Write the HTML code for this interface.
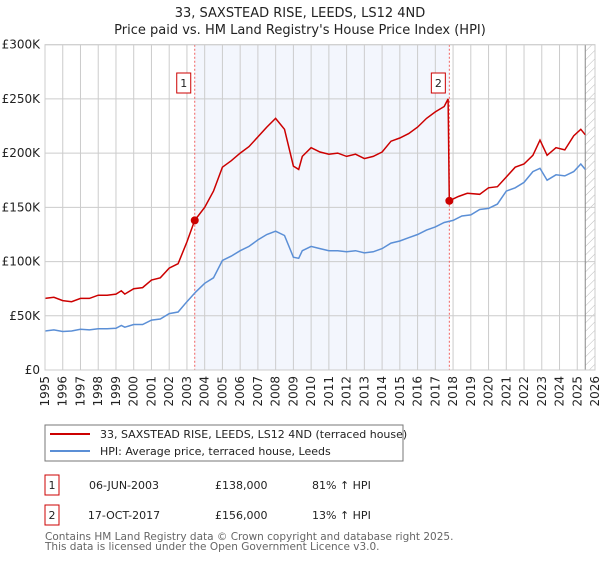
<!DOCTYPE html>
<html><head><meta charset="utf-8"><style>
body{margin:0;background:#fff;font-family:"DejaVu Sans","Liberation Sans",sans-serif;}
svg text{font-family:"DejaVu Sans","Liberation Sans",sans-serif;}
</style></head><body>
<svg id="chart" width="600" height="560" xmlns="http://www.w3.org/2000/svg">
<defs><pattern id="hatch" width="6" height="6" patternUnits="userSpaceOnUse" patternTransform="rotate(45)"><line x1="0" y1="0" x2="0" y2="6" stroke="#bbb" stroke-width="1"/></pattern></defs>
<text x="300" y="17" text-anchor="middle" font-size="13" fill="#222">33, SAXSTEAD RISE, LEEDS, LS12 4ND</text>
<text x="300" y="34" text-anchor="middle" font-size="13" fill="#222">Price paid vs. HM Land Registry's House Price Index (HPI)</text>
<g id="plot"></g>
<rect x="45" y="425" width="358" height="36" fill="#fff" stroke="#777"/>
<line x1="50" y1="434" x2="90" y2="434" stroke="#cc0000" stroke-width="2"/>
<text x="100" y="438" font-size="11" fill="#222">33, SAXSTEAD RISE, LEEDS, LS12 4ND (terraced house)</text>
<line x1="50" y1="451" x2="90" y2="451" stroke="#5b8fd6" stroke-width="2"/>
<text x="100" y="455" font-size="11" fill="#222">HPI: Average price, terraced house, Leeds</text>
<g font-size="11" fill="#222">
<rect x="45" y="475" width="14" height="20" fill="none" stroke="#cc0000"/>
<text x="52" y="489" text-anchor="middle">1</text>
<text x="124" y="489" text-anchor="middle">06-JUN-2003</text>
<text x="215" y="489">£138,000</text>
<text x="312" y="489">81% ↑ HPI</text>
<rect x="45" y="505" width="14" height="20" fill="none" stroke="#cc0000"/>
<text x="52" y="519" text-anchor="middle">2</text>
<text x="124" y="519" text-anchor="middle">17-OCT-2017</text>
<text x="215" y="519">£156,000</text>
<text x="312" y="519">13% ↑ HPI</text>
</g>
<text x="45" y="540" font-size="10.5" fill="#666">Contains HM Land Registry data © Crown copyright and database right 2025.</text>
<text x="45" y="550" font-size="10.5" fill="#666">This data is licensed under the Open Government Licence v3.0.</text>
</svg>
<script>
const hpiYears=[1995,1995.5,1996,1996.5,1997,1997.5,1998,1998.5,1999,1999.3,1999.5,2000,2000.5,2001,2001.5,2002,2002.5,2003,2003.5,2004,2004.5,2005,2005.5,2006,2006.5,2007,2007.5,2008,2008.5,2009,2009.3,2009.5,2010,2010.5,2011,2011.5,2012,2012.5,2013,2013.5,2014,2014.5,2015,2015.5,2016,2016.5,2017,2017.5,2018,2018.5,2019,2019.5,2020,2020.5,2021,2021.5,2022,2022.5,2022.9,2023.3,2023.8,2024.3,2024.8,2025.2,2025.45];
const hpiValues=[36,37,35.5,36,37.5,37,38,38,38.5,41,39.5,42,42,46,47,52,53.5,63,72,80,85,101,105,110,114,120,125,128,124,104,103,110,114,112,110,110,109,110,108,109,112,117,119,122,125,129,132,136,138,142,143,148,149,153,165,168,173,183,186,175,180,179,183,190,185];
const priceYears=[1995,1995.5,1996,1996.5,1997,1997.5,1998,1998.5,1999,1999.3,1999.5,2000,2000.5,2001,2001.5,2002,2002.5,2003,2003.44,2004,2004.5,2005,2005.5,2006,2006.5,2007,2007.5,2008,2008.5,2009,2009.3,2009.5,2010,2010.5,2011,2011.5,2012,2012.5,2013,2013.5,2014,2014.5,2015,2015.5,2016,2016.5,2017,2017.5,2017.72,2017.79,2018.3,2018.8,2019.5,2020,2020.5,2021,2021.5,2022,2022.5,2022.9,2023.3,2023.8,2024.3,2024.8,2025.2,2025.45];
const priceValues=[66,67,64,63,66,66,69,69,70,73,70,75,76,83,85,94,98,118,138,150,165,187,193,200,206,215,224,232,222,188,185,197,205,201,199,200,197,199,195,197,201,211,214,218,224,232,238,243,250,156,160,163,162,168,169,178,187,190,198,212,198,205,203,216,222,217];
const saleYears=[2003.44,2017.79];
const saleValues=[138,156];
const saleLabels=["1","2"];
const yTicks=[0,50,100,150,200,250,300];
const yTickLabels=["£0","£50K","£100K","£150K","£200K","£250K","£300K"];
const xTicks=[1995,1996,1997,1998,1999,2000,2001,2002,2003,2004,2005,2006,2007,2008,2009,2010,2011,2012,2013,2014,2015,2016,2017,2018,2019,2020,2021,2022,2023,2024,2025,2026];

const X0=45,X1=595,Y0=370,Y1=44.7;
const xs=y=>X0+(y-1995)/(2026-1995)*(X1-X0);
const ys=v=>Y0-v/300*(Y0-Y1);
const NS="http://www.w3.org/2000/svg";
const g=document.getElementById('plot');
function mk(t,a){const e=document.createElementNS(NS,t);for(const k in a)e.setAttribute(k,a[k]);g.appendChild(e);return e;}
let e;
e=mk('rect',{x:xs(saleYears[0]),y:Y1,width:xs(saleYears[1])-xs(saleYears[0]),height:Y0-Y1,fill:'#f3f6fd'});


e=mk('rect',{x:xs(2025.45),y:Y1,width:X1-xs(2025.45),height:Y0-Y1,fill:'url(#hatch)'});


xTicks.forEach(t=>{
 e=mk('line',{x1:xs(t),x2:xs(t),y1:Y1,y2:Y0,stroke:'#ccc','stroke-width':1});
 
 
 const tx=xs(t)+4, ty=376;
 e=mk('text',{x:tx,y:ty,'text-anchor':'end','font-size':12,fill:'#222',transform:'rotate(-90 '+tx+' '+ty+')'});
 e.textContent=t;
 
 
});
yTicks.forEach((t,i)=>{
 e=mk('line',{x1:X0,x2:X1,y1:ys(t),y2:ys(t),stroke:'#ccc','stroke-width':1});
 
 
 e=mk('text',{x:40,y:ys(t)+4,'text-anchor':'end','font-size':12,fill:'#222'});
 e.textContent=yTickLabels[i];
 
 
});
e=mk('line',{x1:xs(2025.45),x2:xs(2025.45),y1:Y1,y2:Y0,stroke:'#888','stroke-width':1});


saleYears.forEach((s,i)=>{
 e=mk('line',{x1:xs(s),x2:xs(s),y1:Y1,y2:Y0,stroke:'#f06060','stroke-width':1,'stroke-dasharray':'2,2'});
 
 
});
function pts(xa,va){return xa.map((x,i)=>xs(x).toFixed(1)+','+ys(va[i]).toFixed(1)).join(' ');}
e=mk('polyline',{points:pts(hpiYears,hpiValues),fill:'none',stroke:'#5b8fd6','stroke-width':1.5});


e=mk('polyline',{points:pts(priceYears,priceValues),fill:'none',stroke:'#cc0000','stroke-width':1.5});


saleYears.forEach((s,i)=>{
 e=mk('circle',{cx:xs(s),cy:ys(saleValues[i]),r:4,fill:'#cc0000'});
 
 
 e=mk('rect',{x:xs(s)-18,y:73,width:14,height:20,fill:'#fff',stroke:'#cc0000'});
 
 
 e=mk('text',{x:xs(s)-11,y:87,'text-anchor':'middle','font-size':11,fill:'#222'});
 e.textContent=saleLabels[i];
 
 
});
e=mk('rect',{x:X0,y:Y1,width:X1-X0,height:Y0-Y1,fill:'none',stroke:'#ccc'});


</script>
</body></html>
